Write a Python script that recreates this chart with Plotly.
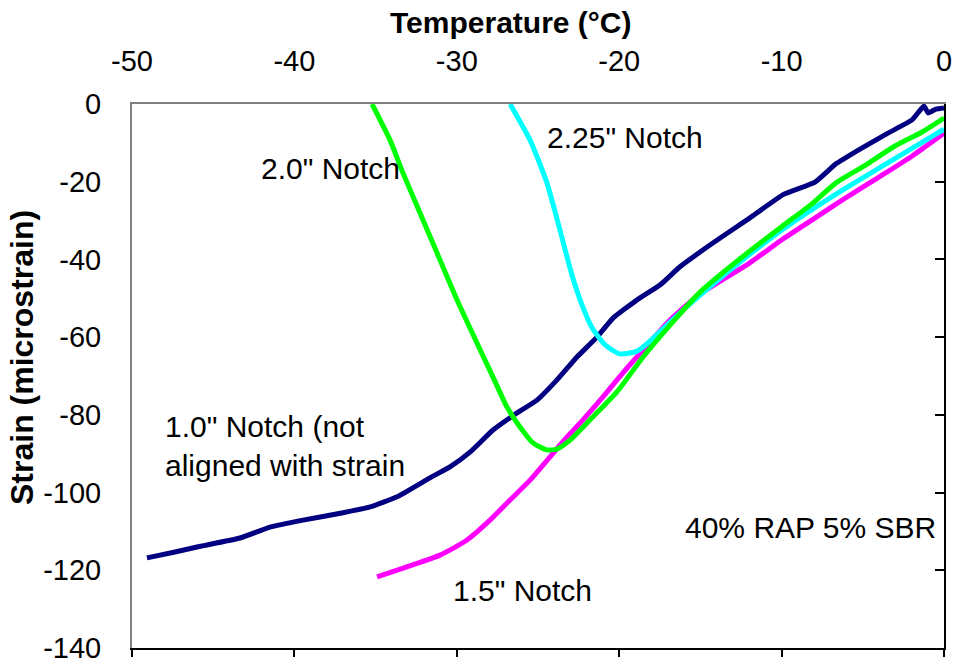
import plotly.graph_objects as go

# Temperature (°C) / strain (microstrain) readings for each notch depth
temp_10 = [-49.08, -47.35, -46.0, -43.35, -41.5, -39.47, -37.0, -35.34, -33.68, -31.65,
           -30.42, -29.19, -27.77, -26.29, -25.06, -23.83, -22.6, -21.37, -20.38, -18.9,
           -17.49, -16.26, -14.41, -12.87, -11.95, -9.85, -7.94, -6.65, -5.17, -3.45,
           -1.97, -1.23, -0.98, -0.49, 0.0]
strain_10 = [-116.8, -115.3, -114.0, -111.7, -108.9, -107.1, -105.2, -103.7, -101.1, -96.2,
             -93.4, -89.6, -83.9, -79.5, -76.2, -71.0, -65.1, -60.0, -55.1, -50.4,
             -46.6, -41.9, -36.3, -31.9, -29.3, -23.2, -20.1, -15.4, -11.6, -7.5,
             -4.1, -0.5, -2.3, -1.3, -1.0]

temp_15 = [-34.91, -33.07, -31.03, -29.37, -27.96, -26.72, -25.49, -24.26, -23.21, -22.23,
           -21.0, -19.77, -18.53, -16.87, -15.02, -12.0, -10.0, -8.0, -6.0, -4.0, -2.0, 0.0]
strain_15 = [-121.7, -119.1, -116.1, -112.2, -107.1, -101.9, -96.8, -90.8, -85.7, -81.3,
             -75.4, -69.2, -63.3, -55.6, -48.9, -41.0, -35.0, -29.5, -24.0, -18.8, -13.5, -7.5]

temp_225 = [-26.72, -25.49, -24.45, -23.65, -22.91, -22.29, -21.67, -20.87, -19.95,
            -18.9, -18.1, -16.87, -15.02, -12.0, -10.0, -8.0, -6.0, -4.0, -2.0, 0.0]
strain_225 = [0.0, -9.3, -20.3, -32.4, -44.0, -51.7, -57.6, -62.0, -64.3,
              -63.6, -61.0, -56.1, -49.2, -38.8, -32.5, -26.8, -21.5, -16.5, -11.5, -6.5]

temp_20 = [-35.22, -34.11, -33.31, -32.39, -31.22, -29.99, -28.76, -27.77, -26.91, -26.11,
           -25.31, -24.45, -23.83, -23.03, -21.8, -20.14, -18.53, -16.87, -15.02, -11.95,
           -9.85, -8.13, -6.65, -4.93, -3.02, -1.35, 0.0]
strain_20 = [0.0, -9.3, -17.8, -26.8, -38.3, -50.4, -61.5, -70.3, -78.0, -83.1,
             -87.2, -89.0, -88.8, -86.5, -81.3, -74.1, -65.1, -56.9, -48.4, -37.8,
             -31.1, -25.7, -20.3, -16.0, -10.8, -7.2, -3.6]

x_ticks = [-50, -40, -30, -20, -10, 0]
x_tick_text = ["-50", "-40", "-30", "-20", "-10", "0"]
y_ticks = [0, -20, -40, -60, -80, -100, -120, -140]
y_tick_text = ["0", "-20", "-40", "-60", "-80", "-100", "-120", "-140"]

FONT = "Liberation Sans, Arial, sans-serif"

# plot-area box in pixels
L, R, T, B = 132, 944, 104, 648
W, H = R - L, B - T

fig = go.Figure()

series = [
    (temp_10, strain_10, "#000080", 0.4),
    (temp_15, strain_15, "#FF00FF", 0.6),
    (temp_225, strain_225, "#00FFFF", 0.6),
    (temp_20, strain_20, "#00FF00", 0.6),
]
for tx, sy, col, sm in series:
    fig.add_trace(go.Scatter(
        x=tx, y=sy, mode="lines",
        line=dict(color=col, width=5, shape="spline", smoothing=sm),
        showlegend=False, hoverinfo="skip", cliponaxis=False,
    ))

# empty trace so the secondary (frame) axes are laid out
fig.add_trace(go.Scatter(x=[], y=[], xaxis="x2", yaxis="y2", showlegend=False))

fig.update_layout(
    width=955, height=667,
    margin=dict(l=L, r=955 - R, t=T, b=667 - B, autoexpand=False),
    paper_bgcolor="white", plot_bgcolor="white",
    font=dict(family=FONT, size=29, color="black"),
    xaxis=dict(
        range=[-50, 0], side="top", tickvals=x_ticks, ticktext=x_tick_text,
        showgrid=False, zeroline=False, automargin=False,
        showline=True, linecolor="#808080", linewidth=2,
        ticks="", ticklabelstandoff=19,
        tickfont=dict(size=29),
    ),
    xaxis2=dict(
        range=[-50, 0], overlaying="x", side="bottom", anchor="y2",
        tickvals=x_ticks, showticklabels=False,
        showgrid=False, zeroline=False, automargin=False,
        showline=True, linecolor="black", linewidth=2,
        ticks="outside", ticklen=7, tickwidth=1.5, tickcolor="black",
    ),
    yaxis=dict(
        range=[-140, 0], side="left", tickvals=y_ticks, ticktext=y_tick_text,
        showgrid=False, zeroline=False, automargin=False,
        showline=True, linecolor="#808080", linewidth=2,
        ticks="", ticklabelstandoff=23,
        tickfont=dict(size=29),
    ),
    yaxis2=dict(
        range=[-140, 0], overlaying="y", side="right", anchor="x2",
        tickvals=y_ticks, showticklabels=False,
        showgrid=False, zeroline=False, automargin=False,
        showline=True, linecolor="black", linewidth=2,
        ticks="inside", ticklen=9, tickwidth=1.5, tickcolor="black",
    ),
)

# axis titles
fig.add_annotation(text="<b>Temperature (°C)</b>", xref="paper", yref="paper",
                   x=(510 - L) / W, y=(B - 22) / H, xanchor="center", yanchor="middle",
                   showarrow=False, font=dict(size=30, family=FONT))
fig.add_annotation(text="<b>Strain (microstrain)</b>", xref="paper", yref="paper",
                   x=(22 - L) / W, y=(B - 358) / H, xanchor="center", yanchor="middle",
                   textangle=-90, showarrow=False, font=dict(size=32, family=FONT))

# curve labels
labels = [
    ('2.25" Notch', -24.57, -8.5),
    ('2.0" Notch', -42.18, -16.5),
    ('1.0" Notch (not<br>aligned with strain', -48.09, -87.9),
    ('40% RAP 5% SBR', -16.07, -108.9),
    ('1.5" Notch', -30.36, -125.1),
]
for txt, lx, ly in labels:
    fig.add_annotation(text=txt, x=lx, y=ly, xref="x", yref="y",
                       xanchor="left", yanchor="middle", align="left",
                       showarrow=False, font=dict(size=30, family=FONT))

fig.write_html("out.html")
